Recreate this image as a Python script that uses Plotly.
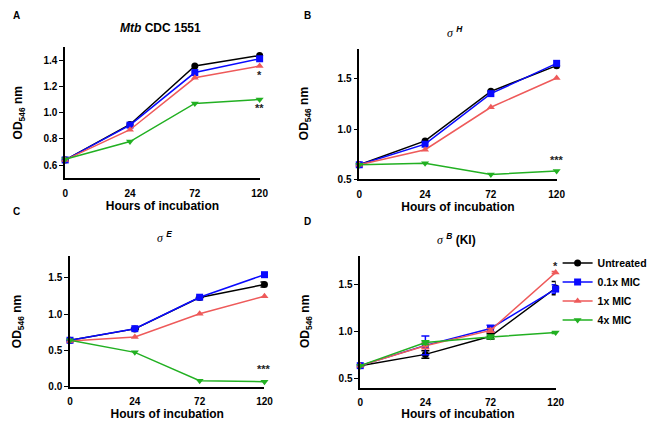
import plotly.graph_objects as go

hours = ["0", "24", "72", "120"]
series_names = ["Untreated", "0.1x MIC", "1x MIC", "4x MIC"]

# Panel A: Mtb CDC 1551
a_untreated = [0.64, 0.91, 1.355, 1.435]
a_01mic = [0.64, 0.905, 1.305, 1.41]
a_1mic = [0.64, 0.87, 1.265, 1.355]
a_4mic = [0.645, 0.78, 1.07, 1.10]

# Panel B: sigma H
b_untreated = [0.645, 0.883, 1.377, 1.633]
b_01mic = [0.645, 0.85, 1.354, 1.656]
b_1mic = [0.645, 0.795, 1.218, 1.51]
b_4mic = [0.645, 0.66, 0.548, 0.584]

# Panel C: sigma E
c_untreated = [0.64, 0.797, 1.23, 1.41]
c_01mic = [0.64, 0.80, 1.234, 1.545]
c_1mic = [0.63, 0.685, 1.005, 1.248]
c_4mic = [0.64, 0.473, 0.081, 0.068]
c_untreated_err = [0.0, 0.01, 0.0, 0.035]

# Panel D: sigma B (KI)
d_untreated = [0.634, 0.754, 0.947, 1.46]
d_01mic = [0.634, 0.85, 1.03, 1.45]
d_1mic = [0.634, 0.845, 1.01, 1.627]
d_4mic = [0.634, 0.88, 0.94, 0.986]
d_untreated_err = [0.0, 0.04, 0.03, 0.07]
d_01mic_err = [0.0, 0.10, 0.035, 0.045]
d_1mic_err = [0.0, 0.03, 0.02, 0.01]
d_4mic_err = [0.0, 0.02, 0.02, 0.01]

# significance labels: (hour, y, text)
a_sig = [("120", 1.29, "*"), ("120", 1.035, "**")]
b_sig = [("120", 0.69, "***")]
c_sig = [("120", 0.24, "***")]
d_sig = [("120", 1.70, "*")]

colors = ["#000000", "#0a0aff", "#ee5a5a", "#22b022"]
symbols = ["circle", "square", "triangle-up", "triangle-down"]

# The page has an 8px body margin, so the figure is 16px smaller than the
# window and every reference pixel position is shifted by 8.
OFF = 8
W, H = 661 - 2 * OFF, 429 - 2 * OFF
FONT = "Arial, Liberation Sans, sans-serif"


def fx(x):
    return (x - OFF) / W


def fy(y):
    return 1 - (y - OFF) / H


panels = [
    dict(vals=[a_untreated, a_01mic, a_1mic, a_4mic], errs=None,
         px=(64, 265), py=(48, 183), yr=[0.5, 1.5],
         yt=[0.6, 0.8, 1.0, 1.2, 1.4], ytt=["0.6", "0.8", "1.0", "1.2", "1.4"], sig=a_sig),
    dict(vals=[b_untreated, b_01mic, b_1mic, b_4mic], errs=None,
         px=(368, 572), py=(50, 184), yr=[0.5, 1.8],
         yt=[0.5, 1.0, 1.5], ytt=["0.5", "1.0", "1.5"], sig=b_sig),
    dict(vals=[c_untreated, c_01mic, c_1mic, c_4mic], errs=[c_untreated_err, None, None, None],
         px=(69, 270), py=(263, 397), yr=[0.0, 1.8],
         yt=[0.0, 0.5, 1.0, 1.5], ytt=["0.0", "0.5", "1.0", "1.5"], sig=c_sig),
    dict(vals=[d_untreated, d_01mic, d_1mic, d_4mic],
         errs=[d_untreated_err, d_01mic_err, d_1mic_err, d_4mic_err],
         px=(369, 571), py=(263, 398), yr=[0.4, 1.8],
         yt=[0.5, 1.0, 1.5], ytt=["0.5", "1.0", "1.5"], sig=d_sig),
]

fig = go.Figure()
annotations = []
layout = {}

for i, p in enumerate(panels):
    n = i + 1
    xa = "x" if n == 1 else f"x{n}"
    ya = "y" if n == 1 else f"y{n}"
    xd = [fx(p["px"][0]), fx(p["px"][1])]
    yd = [fy(p["py"][1]), fy(p["py"][0])]
    for k in range(4):
        err = None
        if p["errs"] is not None and p["errs"][k] is not None:
            err = dict(type="data", array=p["errs"][k], visible=True,
                       color=colors[k], thickness=1.5, width=4)
        fig.add_trace(go.Scatter(
            x=hours, y=p["vals"][k], xaxis=xa, yaxis=ya,
            mode="lines+markers", name=series_names[k],
            line=dict(color=colors[k], width=1.5),
            marker=dict(symbol=symbols[k], size=7, color=colors[k]),
            error_y=err, cliponaxis=False,
            showlegend=(n == 4),
        ))
    layout[f"xaxis{'' if n == 1 else n}"] = dict(
        domain=xd, anchor=ya, type="category", range=[0, 3],
        categoryorder="array", categoryarray=hours,
        showline=True, linecolor="black", linewidth=1.5,
        ticks="", ticklen=0, showgrid=False, zeroline=False,
        tickfont=dict(family=FONT, size=10, color="black", weight="bold"),
        ticklabelstandoff=5,
        title=dict(text="Hours of incubation",
                   font=dict(family=FONT, size=12, color="black", weight="bold"),
                   standoff=4),
    )
    layout[f"yaxis{'' if n == 1 else n}"] = dict(
        domain=yd, anchor=xa, range=p["yr"],
        tickvals=p["yt"], ticktext=p["ytt"],
        showline=True, linecolor="black", linewidth=1.5,
        ticks="outside", ticklen=4, tickwidth=1.2, tickcolor="black",
        showgrid=False, zeroline=False,
        tickfont=dict(family=FONT, size=10, color="black", weight="bold"),
    )
    # y-axis title
    annotations.append(dict(
        text="<b>OD<sub>546</sub> nm</b>", textangle=-90,
        xref="paper", yref="paper",
        x=fx(max(p["px"][0] - 56, 16)), y=(yd[0] + yd[1]) / 2,
        showarrow=False, font=dict(family=FONT, size=12, color="black"),
        xanchor="center", yanchor="middle",
    ))
    for (hx, hy, txt) in p["sig"]:
        annotations.append(dict(
            text=f"<b>{txt}</b>", x=hours.index(hx), y=hy, xref=xa, yref=ya,
            showarrow=False, font=dict(family=FONT, size=11, color="#222"),
            xanchor="center", yanchor="middle",
        ))

# Panel titles
titles = [
    ("<b><i>Mtb</i> CDC 1551</b>", 163, 29),
    ("<span style='font-family:Liberation Serif'><i>σ</i></span> <sup><b><i>H</i></b></sup>", 467, 33),
    ("<span style='font-family:Liberation Serif'><i>σ</i></span> <sup><b><i>E</i></b></sup>", 167, 243),
    ("<span style='font-family:Liberation Serif'><i>σ</i></span> <sup><b><i>B</i></b></sup><b> (KI)</b>", 468, 245),
]
for txt, x, y in titles:
    annotations.append(dict(
        text=txt, xref="paper", yref="paper", x=fx(x), y=fy(y),
        showarrow=False, font=dict(family=FONT, size=12, color="black"),
        xanchor="center", yanchor="middle",
    ))

letters = [("A", 8, 8), ("B", 309, 8), ("C", 8, 209), ("D", 309, 220)]
for txt, x, y in letters:
    annotations.append(dict(
        text=f"<b>{txt}</b>", xref="paper", yref="paper", x=fx(x), y=fy(y),
        showarrow=False, font=dict(family=FONT, size=10, color="black"),
        xanchor="left", yanchor="top",
    ))

fig.update_layout(
    width=W, height=H,
    margin=dict(l=0, r=0, t=0, b=0),
    paper_bgcolor="white", plot_bgcolor="white",
    showlegend=True,
    legend=dict(x=fx(573), y=fy(255), xanchor="left", yanchor="top",
                font=dict(family=FONT, size=10.5, color="black", weight="bold"),
                bgcolor="rgba(0,0,0,0)", tracegroupgap=0, itemwidth=30,
                itemclick=False),
    annotations=annotations,
    **layout,
)

fig.write_html("out.html", config={"displayModeBar": False, "responsive": False})
